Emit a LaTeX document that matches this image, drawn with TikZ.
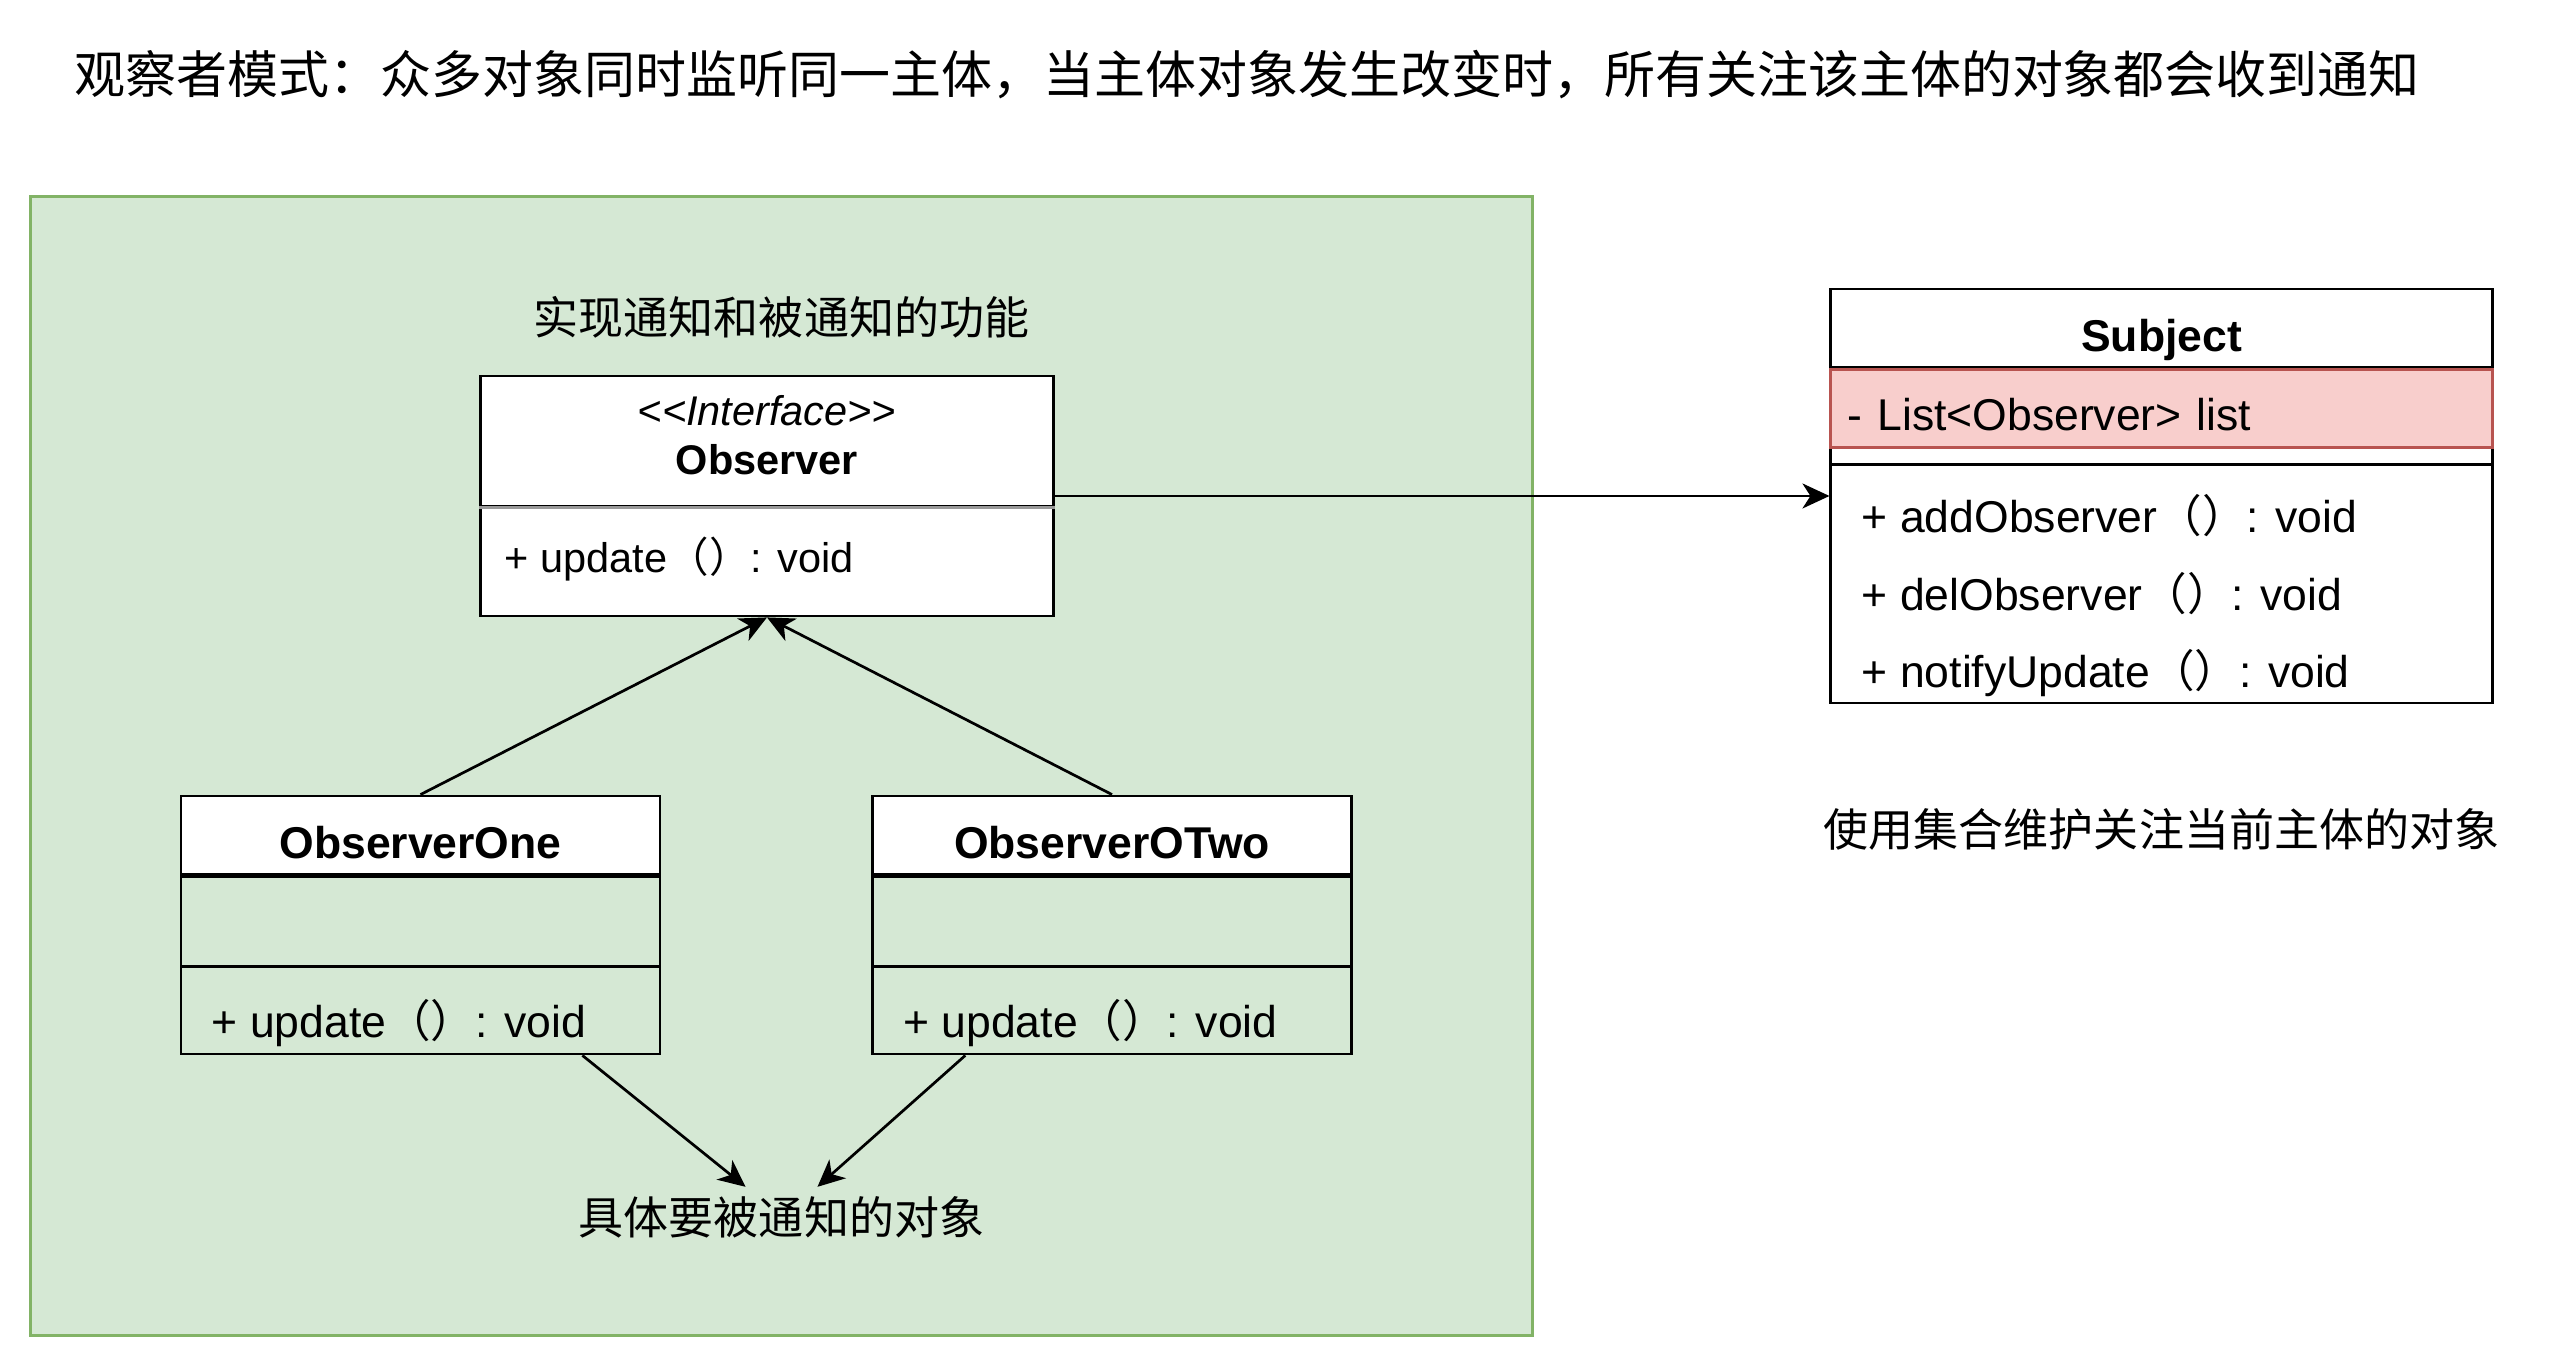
\documentclass[tikz,border=0pt]{standalone}
\usepackage{fontspec}
\usepackage{tikz}
\usetikzlibrary{arrows.meta,positioning}
\newfontfamily\umlfont{Liberation Sans}
\newfontfamily\cjkfont{Noto Sans CJK SC}
\definecolor{greenfill}{HTML}{D5E8D4}
\definecolor{greenedge}{HTML}{82B366}
\definecolor{redfill}{HTML}{F8CECC}
\definecolor{rededge}{HTML}{B85450}
\definecolor{dividergray}{HTML}{999999}
\newcommand\umlsize{\fontsize{12.66pt}{15.2pt}\selectfont}
\newcommand\ifacesize{\fontsize{11.8pt}{14.2pt}\selectfont}
\newcommand\notesize{\fontsize{12.8pt}{15.4pt}\selectfont}
\newcommand\headingsize{\fontsize{14.5pt}{17.4pt}\selectfont}
\newcommand\emptyargs{{\cjkfont （）}}

\begin{document}
\begin{tikzpicture}[x=0.01cm, y=-0.01cm, line width=0.77pt,
  >={Stealth[length=2.7mm, width=2.5mm, inset=0.8mm]},
  container/.style={draw=greenedge, fill=greenfill, inner sep=0pt},
  classframe/.style={draw, inner sep=0pt},
  namecell/.style={draw, fill=white, inner sep=0pt, text height=4.8mm, text depth=0pt, font=\umlfont\umlsize\bfseries},
  compart/.style={draw, inner sep=0pt},
  attrrow/.style={draw=rededge, fill=redfill, inner xsep=1.7mm, inner ysep=0pt, align=left, text height=4.3mm, text depth=0pt, font=\umlfont\umlsize},
  optext/.style={inner sep=0pt, font=\umlfont\umlsize},
  note/.style={inner sep=0.8mm, font=\cjkfont\notesize}]
  \fill[white] (0,0) rectangle (2553,1368);
  \useasboundingbox (0,0) rectangle (2553,1368);

  \node[anchor=west, inner sep=0pt, font=\cjkfont\headingsize] (heading) at (73,75) {观察者模式：众多对象同时监听同一主体，当主体对象发生改变时，所有关注该主体的对象都会收到通知};

  \node[container, minimum width=15.01cm, minimum height=11.38cm] (impl) at (781.5,766) {};
  \node[note] (implnote) at (781.5,317) {实现通知和被通知的功能};

  \node[classframe, fill=white, minimum width=5.72cm, minimum height=2.4cm] (observer) at (767,496) {};
  \node[compart, align=center, font=\umlfont\ifacesize, text depth=1.2mm, minimum width=5.72cm, minimum height=1.3cm, below=0pt of observer.north] (obshead) {\textit{<<Interface>>}\\\textbf{Observer}};
  \draw[dividergray] (obshead.south west) -- (obshead.south east);
  \node[optext, font=\umlfont\ifacesize, right=2.4mm of observer.south west, yshift=5.8mm] (obsupdate) {+ update\emptyargs: void};

  \node[classframe, minimum width=4.79cm, minimum height=2.58cm] (one) at (420.5,925) {};
  \node[namecell, minimum width=4.79cm, minimum height=0.78cm, below=0pt of one.north] (onehead) {ObserverOne};
  \node[compart, minimum width=4.79cm, minimum height=0.9cm, below=0pt of onehead] (oneattr) {};
  \node[optext, right=3.1mm of one.south west, yshift=3.2mm] (oneupdate) {+ update\emptyargs: void};

  \node[classframe, minimum width=4.79cm, minimum height=2.58cm] (two) at (1112,925) {};
  \node[namecell, minimum width=4.79cm, minimum height=0.78cm, below=0pt of two.north] (twohead) {ObserverOTwo};
  \node[compart, minimum width=4.79cm, minimum height=0.9cm, below=0pt of twohead] (twoattr) {};
  \node[optext, right=3.1mm of two.south west, yshift=3.2mm] (twoupdate) {+ update\emptyargs: void};

  \node[note] (notified) at (781.5,1217) {具体要被通知的对象};

  \node[classframe, fill=white, minimum width=6.61cm, minimum height=4.14cm] (subject) at (2161.5,496) {};
  \node[namecell, minimum width=6.61cm, minimum height=0.78cm, below=0pt of subject.north] (subjhead) {Subject};
  \node[attrrow, text width=6.27cm, minimum height=0.78cm, below=0pt of subjhead] (subjlist) {- List<Observer> list};
  \node[inner sep=0pt, minimum width=6.61cm, minimum height=1.3mm, below=0pt of subjlist] (subjgap) {};
  \draw (subjgap.south west) -- (subjgap.south east);
  \node[optext, right=3.1mm of subject.south west, yshift=18.9mm] (subjadd) {+ addObserver\emptyargs: void};
  \node[optext, right=3.1mm of subject.south west, yshift=11.1mm] (subjdel) {+ delObserver\emptyargs: void};
  \node[optext, right=3.1mm of subject.south west, yshift=3.1mm] (subjnotify) {+ notifyUpdate\emptyargs: void};
  \node[note, below=9.5mm of subject] (subjnote) {使用集合维护关注当前主体的对象};

  \draw[->] (observer) -- (subject);
  \draw[->] (one.north) -- (observer.south);
  \draw[->] (two.north) -- (observer.south);
  \draw[->] (one) -- (notified.140);
  \draw[->] (two) -- (notified.40);
\end{tikzpicture}
\end{document}
